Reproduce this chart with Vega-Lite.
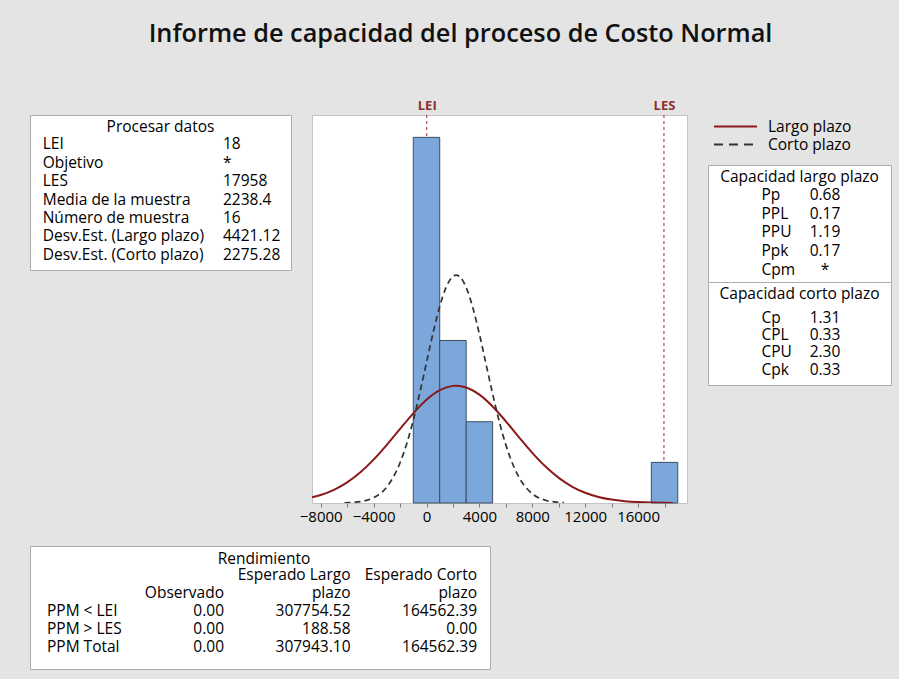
{
  "$schema": "https://vega.github.io/schema/vega-lite/v6.json",
  "background": "#e4e4e4",
  "padding": {"left": 29, "top": 21, "right": 9, "bottom": 11},
  "autosize": {"type": "pad"},
  "title": {
    "text": "Informe de capacidad del proceso de Costo Normal",
    "font": "Open Sans", "fontSize": 25.3, "fontWeight": 600, "color": "#111111",
    "anchor": "middle", "offset": 51.5, "baseline": "top"
  },
  "config": {
    "view": {"fill": "white", "stroke": "#acacac"},
    "font": "Open Sans",
    "title": {"font": "Open Sans", "fontSize": 15.5, "fontWeight": "normal", "color": "black", "anchor": "middle", "baseline": "top"},
    "text": {"font": "Open Sans", "fontSize": 15.5, "color": "black", "baseline": "middle"}
  },
  "datasets": {
    "hist": [
      {"start": -1000, "end": 1000, "count": 9},
      {"start": 1000, "end": 3000, "count": 4},
      {"start": 3000, "end": 5000, "count": 2},
      {"start": 17000, "end": 19000, "count": 1}
    ],
    "largo": [
      {"x": -8660, "d": 0.1383}, {"x": -8000, "d": 0.1977}, {"x": -7000, "d": 0.3254}, {"x": -6000, "d": 0.5088},
      {"x": -5000, "d": 0.7558}, {"x": -4000, "d": 1.0669}, {"x": -3000, "d": 1.4308}, {"x": -2000, "d": 1.8235},
      {"x": -1000, "d": 2.2077}, {"x": 0, "d": 2.5397}, {"x": 1000, "d": 2.7759}, {"x": 2000, "d": 2.8828},
      {"x": 2238, "d": 2.887}, {"x": 3000, "d": 2.8445}, {"x": 4000, "d": 2.6667}, {"x": 5000, "d": 2.3753},
      {"x": 6000, "d": 2.0104}, {"x": 7000, "d": 1.6165}, {"x": 8000, "d": 1.235}, {"x": 9000, "d": 0.8965},
      {"x": 10000, "d": 0.6183}, {"x": 11000, "d": 0.4052}, {"x": 12000, "d": 0.2522}, {"x": 13000, "d": 0.1492},
      {"x": 14000, "d": 0.0839}, {"x": 15000, "d": 0.0448}, {"x": 16000, "d": 0.0227}, {"x": 17000, "d": 0.011},
      {"x": 18000, "d": 0.005}, {"x": 18620, "d": 0.003}
    ],
    "corto": [
      {"x": -6200, "d": 0.0058}, {"x": -5000, "d": 0.0356}, {"x": -4000, "d": 0.1308}, {"x": -3000, "d": 0.3963},
      {"x": -2000, "d": 0.9897}, {"x": -1500, "d": 1.4549}, {"x": -1000, "d": 2.0377}, {"x": -500, "d": 2.7198},
      {"x": 0, "d": 3.4584}, {"x": 500, "d": 4.1909}, {"x": 1000, "d": 4.8385}, {"x": 1500, "d": 5.3232},
      {"x": 2000, "d": 5.5803}, {"x": 2238, "d": 5.611}, {"x": 2500, "d": 5.574}, {"x": 3000, "d": 5.3053},
      {"x": 3500, "d": 4.8114}, {"x": 4000, "d": 4.1579}, {"x": 4500, "d": 3.4237}, {"x": 5000, "d": 2.6863},
      {"x": 5500, "d": 2.0084}, {"x": 6000, "d": 1.4307}, {"x": 7000, "d": 0.6282}, {"x": 8000, "d": 0.2274},
      {"x": 9000, "d": 0.0678}, {"x": 10000, "d": 0.0167}, {"x": 10400, "d": 0.009}
    ],
    "limits": [{"v": 18, "name": "LEI"}, {"v": 17958, "name": "LES"}],
    "proc": [
      {"row": 1, "col": "lab", "t": "LEI"}, {"row": 1, "col": "val", "t": "18"},
      {"row": 2, "col": "lab", "t": "Objetivo"}, {"row": 2, "col": "val", "t": "*"},
      {"row": 3, "col": "lab", "t": "LES"}, {"row": 3, "col": "val", "t": "17958"},
      {"row": 4, "col": "lab", "t": "Media de la muestra"}, {"row": 4, "col": "val", "t": "2238.4"},
      {"row": 5, "col": "lab", "t": "Número de muestra"}, {"row": 5, "col": "val", "t": "16"},
      {"row": 6, "col": "lab", "t": "Desv.Est. (Largo plazo)"}, {"row": 6, "col": "val", "t": "4421.12"},
      {"row": 7, "col": "lab", "t": "Desv.Est. (Corto plazo)"}, {"row": 7, "col": "val", "t": "2275.28"}
    ],
    "capl": [
      {"row": 1, "col": "lab", "t": "Pp"}, {"row": 1, "col": "val", "t": "0.68"},
      {"row": 2, "col": "lab", "t": "PPL"}, {"row": 2, "col": "val", "t": "0.17"},
      {"row": 3, "col": "lab", "t": "PPU"}, {"row": 3, "col": "val", "t": "1.19"},
      {"row": 4, "col": "lab", "t": "Ppk"}, {"row": 4, "col": "val", "t": "0.17"},
      {"row": 5, "col": "lab", "t": "Cpm"}, {"row": 5, "col": "val", "t": "*"}
    ],
    "capc": [
      {"row": 1, "col": "lab", "t": "Cp"}, {"row": 1, "col": "val", "t": "1.31"},
      {"row": 2, "col": "lab", "t": "CPL"}, {"row": 2, "col": "val", "t": "0.33"},
      {"row": 3, "col": "lab", "t": "CPU"}, {"row": 3, "col": "val", "t": "2.30"},
      {"row": 4, "col": "lab", "t": "Cpk"}, {"row": 4, "col": "val", "t": "0.33"}
    ],
    "rend": [
      {"row": 1, "col": "largo", "t": "Esperado Largo"}, {"row": 1, "col": "corto", "t": "Esperado Corto"},
      {"row": 2, "col": "obs", "t": "Observado"}, {"row": 2, "col": "largo", "t": "plazo"}, {"row": 2, "col": "corto", "t": "plazo"},
      {"row": 3, "col": "lab", "t": "PPM < LEI"}, {"row": 3, "col": "obs", "t": "0.00"}, {"row": 3, "col": "largo", "t": "307754.52"}, {"row": 3, "col": "corto", "t": "164562.39"},
      {"row": 4, "col": "lab", "t": "PPM > LES"}, {"row": 4, "col": "obs", "t": "0.00"}, {"row": 4, "col": "largo", "t": "188.58"}, {"row": 4, "col": "corto", "t": "0.00"},
      {"row": 5, "col": "lab", "t": "PPM Total"}, {"row": 5, "col": "obs", "t": "0.00"}, {"row": 5, "col": "largo", "t": "307943.10"}, {"row": 5, "col": "corto", "t": "164562.39"}
    ],
    "series": [{"series": "Largo plazo"}, {"series": "Corto plazo"}]
  },
  "resolve": {"scale": {"color": "independent", "strokeDash": "independent"}, "legend": {"color": "independent", "strokeDash": "independent"}},
  "bounds": "full",
  "spacing": 20,
  "vconcat": [
    {
      "bounds": "flush",
      "spacing": 21,
      "resolve": {"scale": {"color": "independent", "strokeDash": "independent"}, "legend": {"color": "independent", "strokeDash": "independent"}},
      "hconcat": [
        {
          "width": 261, "height": 155,
          "title": {"text": "Procesar datos", "offset": -20.5},
          "data": {"name": "proc"},
          "mark": {"type": "text", "align": "left"},
          "encoding": {
            "x": {"field": "col", "type": "nominal", "axis": null, "scale": {"type": "point", "domain": ["lab", "val"], "range": [12.7, 193], "padding": 0}},
            "y": {"field": "row", "type": "quantitative", "axis": null, "scale": {"domain": [1, 7], "range": [29.3, 139.9]}},
            "text": {"field": "t", "type": "nominal"}
          }
        },
        {
          "width": 375, "height": 388,
          "view": {"fill": "white", "stroke": "#c4c4c4"},
          "resolve": {"axis": {"x": "independent"}},
          "layer": [
            {
              "data": {"name": "limits"},
              "mark": {"type": "rule", "color": "#9B2D2D", "strokeDash": [3, 3], "strokeWidth": 1},
              "encoding": {
                "x": {"field": "v", "type": "quantitative", "scale": {"domain": [-8660, 19700], "nice": false, "zero": false},
                  "axis": {"orient": "top", "values": [18, 17958], "labelExpr": "datum.value < 9000 ? 'LEI' : 'LES'", "ticks": false, "domain": false, "grid": false,
                    "labelColor": "#8B2F2F", "labelFontWeight": "bold", "labelFontSize": 13, "labelFont": "Open Sans", "labelPadding": 3, "title": null, "labelFlush": false, "labelOverlap": false}}
              }
            },
            {
              "data": {"name": "hist"},
              "mark": {"type": "bar", "fill": "#7BA7DB", "stroke": "#3E4E60", "strokeWidth": 1},
              "encoding": {
                "x": {"field": "start", "type": "quantitative", "scale": {"domain": [-8660, 19700], "nice": false, "zero": false},
                  "axis": {"orient": "bottom", "values": [-8000, -6000, -4000, -2000, 0, 2000, 4000, 6000, 8000, 10000, 12000, 14000, 16000, 18000],
                    "labelExpr": "datum.value % 4000 == 0 ? format(datum.value, 'd') : ''", "grid": false, "domain": false,
                    "tickColor": "#808080", "tickSize": 4, "labelFontSize": 15, "labelFont": "Open Sans", "labelColor": "black", "labelPadding": 2,
                    "labelFlush": false, "labelOverlap": false, "title": null}},
                "x2": {"field": "end"},
                "y": {"field": "count", "type": "quantitative", "axis": null, "scale": {"domain": [0, 9.55], "nice": false}},
                "y2": {"datum": 0}
              }
            },
            {
              "data": {"name": "largo"},
              "mark": {"type": "line", "color": "#8B1A1A", "strokeWidth": 2, "interpolate": "monotone", "clip": true},
              "encoding": {
                "x": {"field": "x", "type": "quantitative", "axis": null, "scale": {"domain": [-8660, 19700], "nice": false, "zero": false}},
                "y": {"field": "d", "type": "quantitative", "axis": null, "scale": {"domain": [0, 9.55], "nice": false}}
              }
            },
            {
              "data": {"name": "corto"},
              "mark": {"type": "line", "color": "#333333", "strokeWidth": 1.7, "strokeDash": [6, 4], "interpolate": "monotone", "clip": true},
              "encoding": {
                "x": {"field": "x", "type": "quantitative", "axis": null, "scale": {"domain": [-8660, 19700], "nice": false, "zero": false}},
                "y": {"field": "d", "type": "quantitative", "axis": null, "scale": {"domain": [0, 9.55], "nice": false}}
              }
            }
          ]
        },
        {
          "bounds": "flush",
          "spacing": 6,
          "resolve": {"scale": {"color": "independent", "strokeDash": "independent"}, "legend": {"color": "independent", "strokeDash": "independent"}},
          "vconcat": [
            {
              "width": 183, "height": 44,
              "data": {"name": "series"},
              "mark": {"type": "line", "strokeWidth": 2},
              "encoding": {
                "color": {"field": "series", "type": "nominal", "scale": {"domain": ["Largo plazo", "Corto plazo"], "range": ["#8B1A1A", "#333333"]},
                  "legend": {"title": null, "orient": "top-left", "offset": 3, "padding": 2, "symbolType": "stroke", "symbolSize": 1849, "symbolStrokeWidth": 2,
                    "clipHeight": 13, "rowPadding": 2, "labelFontSize": 15.5, "labelFont": "Open Sans", "labelColor": "black", "labelOffset": 10}},
                "strokeDash": {"field": "series", "type": "nominal", "scale": {"domain": ["Largo plazo", "Corto plazo"], "range": [[1, 0], [9, 6]]},
                  "legend": {"title": null, "orient": "top-left", "offset": 3, "padding": 2, "symbolType": "stroke", "symbolSize": 1849, "symbolStrokeWidth": 2,
                    "clipHeight": 13, "rowPadding": 2, "labelFontSize": 15.5, "labelFont": "Open Sans", "labelColor": "black", "labelOffset": 10}}
              }
            },
            {
              "bounds": "flush",
              "spacing": 0,
              "vconcat": [
                {
                  "width": 183, "height": 117,
                  "title": {"text": "Capacidad largo plazo", "offset": -20.5},
                  "data": {"name": "capl"},
                  "layer": [
                    {"transform": [{"filter": "datum.col == 'lab'"}], "mark": {"type": "text", "align": "left"},
                      "encoding": {
                        "x": {"field": "col", "type": "nominal", "axis": null, "scale": {"type": "point", "domain": ["lab", "val"], "range": [53.5, 117], "padding": 0}},
                        "y": {"field": "row", "type": "quantitative", "axis": null, "scale": {"domain": [1, 5], "range": [30, 104.8]}},
                        "text": {"field": "t", "type": "nominal"}}},
                    {"transform": [{"filter": "datum.col == 'val'"}], "mark": {"type": "text", "align": "center"},
                      "encoding": {
                        "x": {"field": "col", "type": "nominal", "axis": null, "scale": {"type": "point", "domain": ["lab", "val"], "range": [53.5, 117], "padding": 0}},
                        "y": {"field": "row", "type": "quantitative", "axis": null, "scale": {"domain": [1, 5], "range": [30, 104.8]}},
                        "text": {"field": "t", "type": "nominal"}}}
                  ]
                },
                {
                  "width": 183, "height": 103,
                  "title": {"text": "Capacidad corto plazo", "offset": -20},
                  "data": {"name": "capc"},
                  "layer": [
                    {"transform": [{"filter": "datum.col == 'lab'"}], "mark": {"type": "text", "align": "left"},
                      "encoding": {
                        "x": {"field": "col", "type": "nominal", "axis": null, "scale": {"type": "point", "domain": ["lab", "val"], "range": [53.5, 117], "padding": 0}},
                        "y": {"field": "row", "type": "quantitative", "axis": null, "scale": {"domain": [1, 4], "range": [35.5, 87.8]}},
                        "text": {"field": "t", "type": "nominal"}}},
                    {"transform": [{"filter": "datum.col == 'val'"}], "mark": {"type": "text", "align": "center"},
                      "encoding": {
                        "x": {"field": "col", "type": "nominal", "axis": null, "scale": {"type": "point", "domain": ["lab", "val"], "range": [53.5, 117], "padding": 0}},
                        "y": {"field": "row", "type": "quantitative", "axis": null, "scale": {"domain": [1, 4], "range": [35.5, 87.8]}},
                        "text": {"field": "t", "type": "nominal"}}}
                  ]
                }
              ]
            }
          ]
        }
      ]
    },
    {
      "width": 460, "height": 123,
      "title": {"text": "Rendimiento", "offset": -21, "dx": 4},
      "data": {"name": "rend"},
      "layer": [
        {"transform": [{"filter": "datum.col == 'lab'"}], "mark": {"type": "text", "align": "left", "dx": -50.5},
          "encoding": {
            "x": {"field": "col", "type": "nominal", "axis": null, "scale": {"type": "point", "domain": ["lab", "obs", "largo", "corto"], "range": [67.5, 447], "padding": 0}},
            "y": {"field": "row", "type": "quantitative", "axis": null, "scale": {"domain": [1, 5], "range": [28.7, 101.2]}},
            "text": {"field": "t", "type": "nominal"}}},
        {"transform": [{"filter": "datum.col != 'lab'"}], "mark": {"type": "text", "align": "right"},
          "encoding": {
            "x": {"field": "col", "type": "nominal", "axis": null, "scale": {"type": "point", "domain": ["lab", "obs", "largo", "corto"], "range": [67.5, 447], "padding": 0}},
            "y": {"field": "row", "type": "quantitative", "axis": null, "scale": {"domain": [1, 5], "range": [28.7, 101.2]}},
            "text": {"field": "t", "type": "nominal"}}}
      ]
    }
  ]
}
